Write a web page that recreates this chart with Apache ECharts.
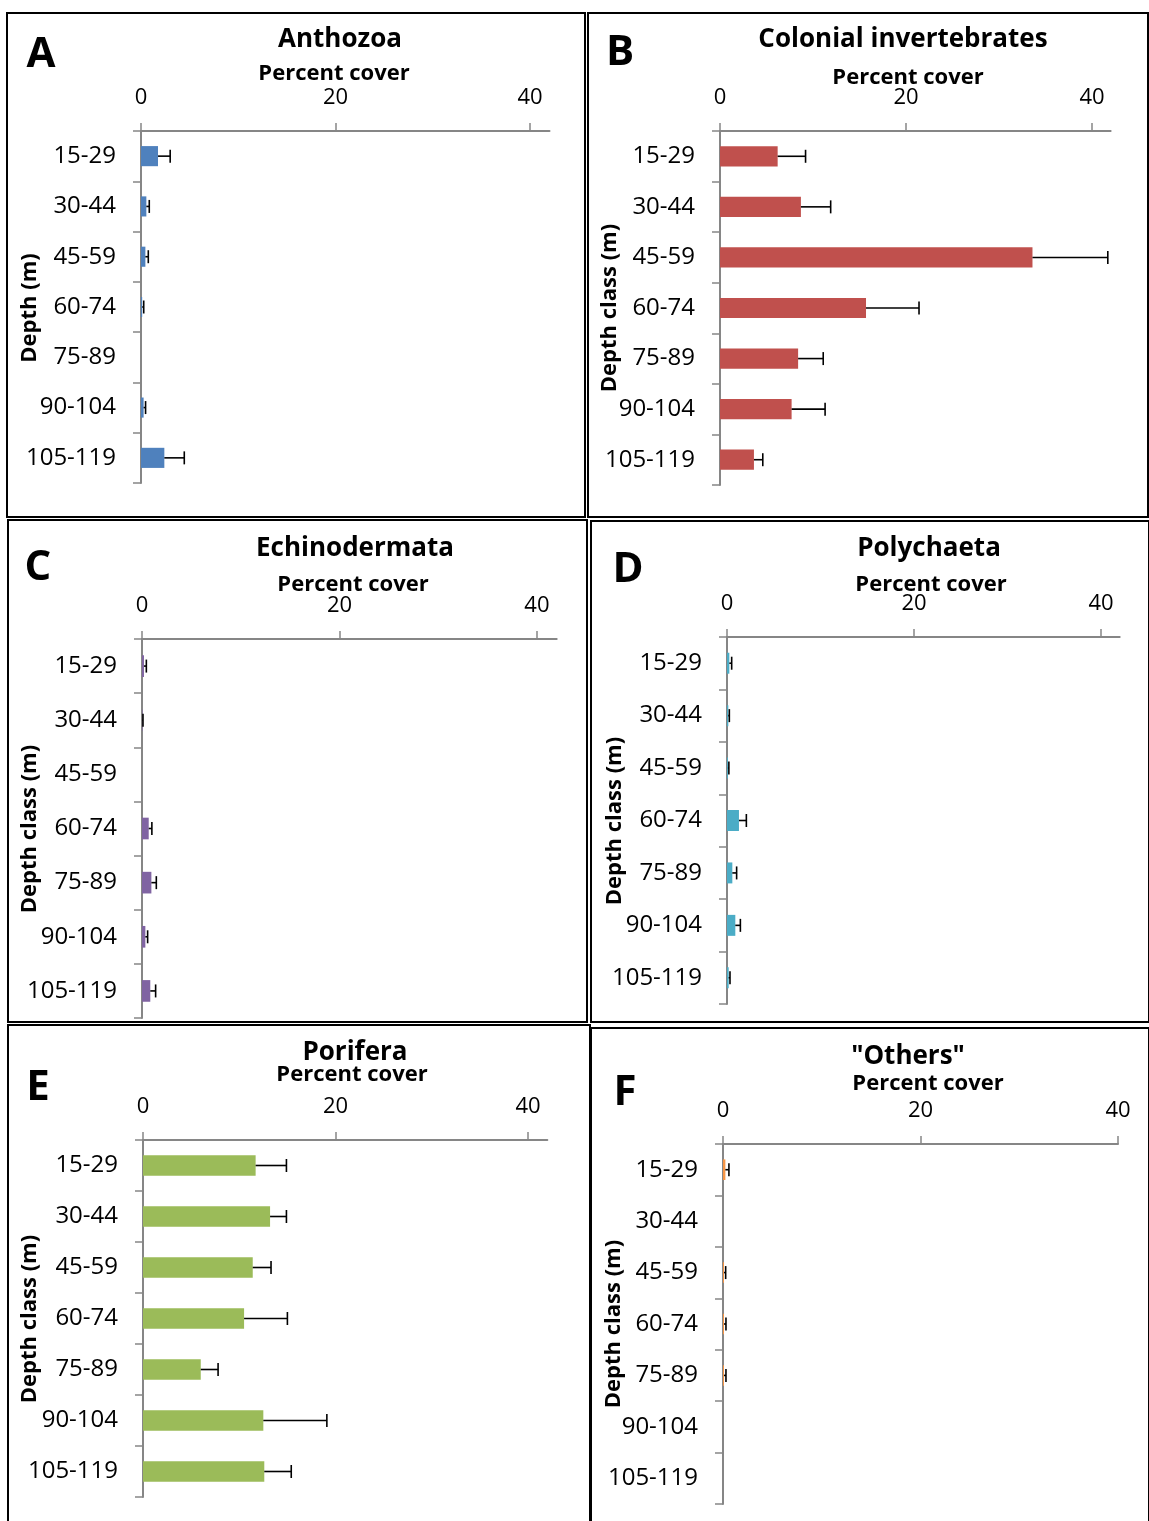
<!DOCTYPE html>
<html>
<head>
<meta charset="utf-8">
<script src="https://cdn.jsdelivr.net/npm/echarts@6/dist/echarts.min.js"></script>
<style>
html,body{margin:0;padding:0;background:#fff;}
#chart{width:1149px;height:1521px;}
</style>
</head>
<body>
<div id="chart"></div>
<script>
// ---- data ----
const categories = ['15-29','30-44','45-59','60-74','75-89','90-104','105-119'];
const tickValues = [0, 20, 40];
const anthozoaMean = [1.75, 0.55, 0.45, 0.12, 0, 0.27, 2.4];
const anthozoaSE   = [1.25, 0.3, 0.3, 0.16, 0, 0.2, 2.05];
const colonialMean = [6.2, 8.7, 33.6, 15.7, 8.4, 7.7, 3.65];
const colonialSE   = [3.0, 3.2, 8.1, 5.7, 2.7, 3.6, 0.95];
const echinoMean   = [0.2, 0.05, 0, 0.68, 0.95, 0.34, 0.84];
const echinoSE     = [0.24, 0.05, 0, 0.32, 0.5, 0.23, 0.54];
const polyMean     = [0.25, 0.14, 0.1, 1.28, 0.57, 0.89, 0.18];
const polySE       = [0.25, 0.11, 0.1, 0.79, 0.46, 0.54, 0.14];
const poriferaMean = [11.7, 13.2, 11.4, 10.5, 6.0, 12.5, 12.6];
const poriferaSE   = [3.2, 1.7, 1.9, 4.5, 1.8, 6.6, 2.8];
const othersMean   = [0.24, 0, 0.1, 0.1, 0.1, 0, 0];
const othersSE     = [0.36, 0, 0.17, 0.2, 0.2, 0, 0];

const titles = ['Anthozoa','Colonial invertebrates','Echinodermata','Polychaeta','Porifera','"Others"'];
const letters = ['A','B','C','D','E','F'];
const yNames = ['Depth (m)','Depth class (m)','Depth class (m)','Depth class (m)','Depth class (m)','Depth class (m)'];
const xName = 'Percent cover';

// ---- layout (positions & styles) ----
const FONT = "'Open Sans', 'Noto Sans', sans-serif";
const panels = [
  {mean: anthozoaMean, se: anthozoaSE, color:'#4F81BD', grid:{left:141, top:131, width:408.5, height:352}, max:42,
   box:[7,13,578,504], letter:[41,55], title:[340,40], xname:[334,74], yname:[30,308]},
  {mean: colonialMean, se: colonialSE, color:'#C0504D', grid:{left:720, top:131, width:390.6, height:354}, max:42,
   box:[588,13,560,504], letter:[620,53], title:[903,40], xname:[908,78], yname:[610,308]},
  {mean: echinoMean, se: echinoSE, color:'#8064A2', grid:{left:142, top:639, width:414.7, height:379}, max:42,
   box:[8,520,579,502], letter:[38,568], title:[355,549], xname:[353,585], yname:[30,829]},
  {mean: polyMean, se: polySE, color:'#4BACC6', grid:{left:727, top:637, width:392.7, height:367}, max:42,
   box:[591,521,558,501], letter:[628,570], title:[929,549], xname:[931,585], yname:[615,821]},
  {mean: poriferaMean, se: poriferaSE, color:'#9BBB59', grid:{left:143, top:1140, width:404.3, height:357}, max:42,
   box:[8,1025,582,500], letter:[38,1088], title:[355,1053], xname:[352,1075], yname:[30,1319]},
  {mean: othersMean, se: othersSE, color:'#F79646', grid:{left:723, top:1144, width:395, height:360}, max:40,
   box:[591,1028,558,497], letter:[625,1093], title:[908,1057], xname:[928,1084], yname:[614,1324]}
];

const AXIS_COLOR = '#868686';
const grids = [], xAxes = [], yAxes = [], series = [], graphics = [];

function errRender(params, api) {
  const cat = api.value(0);
  const m = api.value(1), e = api.value(2);
  if (!(e > 0)) return;
  const p0 = api.coord([m, cat]);
  const p1 = api.coord([m + e, cat]);
  const h = 6.5;
  return {
    type: 'group',
    children: [
      {type:'line', shape:{x1:p0[0], y1:p0[1], x2:p1[0], y2:p1[1]}, style:{stroke:'#000', lineWidth:1.6}},
      {type:'line', shape:{x1:p1[0], y1:p1[1]-h, x2:p1[0], y2:p1[1]+h}, style:{stroke:'#000', lineWidth:1.6}}
    ]
  };
}

panels.forEach((p, i) => {
  grids.push(Object.assign({containLabel:false}, p.grid));
  xAxes.push({
    type:'value', gridIndex:i, position:'top', min:0, max:p.max,
    splitLine:{show:false},
    axisLine:{show:true, lineStyle:{color:AXIS_COLOR, width:2}},
    axisTick:{show:true, length:8, lineStyle:{color:AXIS_COLOR, width:1.5}, customValues: tickValues},
    axisLabel:{show:true, customValues: tickValues, color:'#000', fontSize:22, fontFamily:FONT, margin:22}
  });
  yAxes.push({
    type:'category', gridIndex:i, inverse:true, data:categories,
    axisLine:{show:true, onZero:false, lineStyle:{color:AXIS_COLOR, width:2}},
    axisTick:{show:true, length:8, lineStyle:{color:AXIS_COLOR, width:1.5}},
    axisLabel:{color:'#000', fontSize:24, fontFamily:FONT, margin:25}
  });
  series.push({
    type:'bar', xAxisIndex:i, yAxisIndex:i, data:p.mean, barWidth:'40%',
    itemStyle:{color:p.color}, silent:true, animation:false
  });
  series.push({
    type:'custom', xAxisIndex:i, yAxisIndex:i, renderItem:errRender,
    encode:{x:[1,2], y:0}, animation:false, silent:true, z:5,
    data: categories.map((c, k) => [k, p.mean[k], p.se[k]])
  });
  graphics.push({type:'rect', shape:{x:p.box[0], y:p.box[1], width:p.box[2], height:p.box[3]},
    style:{fill:'none', stroke:'#000', lineWidth:2}, z:100});
  graphics.push({type:'text', x:p.letter[0], y:p.letter[1],
    style:{text:letters[i], font:'bold 42px ' + FONT, fill:'#000', textAlign:'center', textVerticalAlign:'middle'}});
  graphics.push({type:'text', x:p.title[0], y:p.title[1],
    style:{text:titles[i], font:'bold 26px ' + FONT, fill:'#000', textAlign:'center', textVerticalAlign:'middle'}});
  graphics.push({type:'text', x:p.xname[0], y:p.xname[1],
    style:{text:xName, font:'bold 22px ' + FONT, fill:'#000', textAlign:'center', textVerticalAlign:'middle'}});
  graphics.push({type:'text', x:p.yname[0], y:p.yname[1], rotation:Math.PI/2,
    style:{text:yNames[i], font:'bold 22px ' + FONT, fill:'#000', textAlign:'center', textVerticalAlign:'middle'}});
});

const chart = echarts.init(document.getElementById('chart'), null, {renderer:'canvas'});
chart.setOption({
  animation:false,
  backgroundColor:'#fff',
  grid:grids, xAxis:xAxes, yAxis:yAxes, series:series, graphic:graphics
});
</script>
</body>
</html>
